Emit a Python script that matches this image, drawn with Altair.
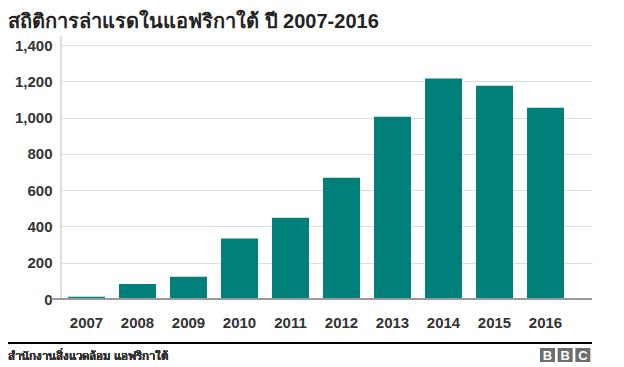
import altair as alt
import pandas as pd

years = ["2007", "2008", "2009", "2010", "2011", "2012", "2013", "2014", "2015", "2016"]
rhinos_poached = [13, 83, 122, 333, 448, 668, 1004, 1215, 1175, 1054]
y_ticks = [0, 200, 400, 600, 800, 1000, 1200, 1400]

title_text = "สถิติการล่าแรดในแอฟริกาใต้  ปี 2007-2016"
source_text = "สำนักงานสิ่งแวดล้อม  แอฟริกาใต้"
logo_letters = ["B", "B", "C"]

FONT = "Liberation Sans, Arial, Helvetica, sans-serif"
TEAL = "#007f7b"
W, H = 531, 254

df = pd.DataFrame({"year": years, "value": rhinos_poached})

bars = alt.Chart(df).mark_bar(color=TEAL).encode(
    x=alt.X("year:N", sort=years,
            scale=alt.Scale(paddingInner=0.275, paddingOuter=0.343, align=0.2),
            axis=alt.Axis(title=None, labelAngle=0, domain=False, ticks=False, grid=False,
                          labelFont=FONT, labelFontSize=15, labelFontWeight="bold",
                          labelColor="#333333", labelPadding=16)),
    y=alt.Y("value:Q",
            scale=alt.Scale(domain=[0, 1400], nice=False),
            axis=alt.Axis(title=None, values=y_ticks, format=",d", domain=False,
                          ticks=False, grid=True, labelFont=FONT, labelFontSize=15,
                          labelFontWeight="bold", labelColor="#333333",
                          labelPadding=9, gridColor="#dddddd")),
)

# y-axis vertical line and zero baseline
vline = alt.Chart(df).mark_rule(color="#dddddd", strokeWidth=1).encode(
    x=alt.value(0), y=alt.value(-9), y2=alt.value(H)
)
zero = alt.Chart(df).mark_rule(color="#999999", strokeWidth=1).encode(
    x=alt.value(-10), x2=alt.value(W), y=alt.value(H)
)

# footer
footer_line = alt.Chart(df).mark_rule(color="#000000", strokeWidth=1.5).encode(
    x=alt.value(-53), x2=alt.value(W), y=alt.value(298)
)
source = alt.Chart(df).mark_text(
    text=source_text, align="left", baseline="alphabetic", font=FONT,
    fontSize=11.5, fontWeight="normal", color="#333333"
).encode(x=alt.value(-53), y=alt.value(315))

logo_df = pd.DataFrame({"letter": logo_letters, "i": [0, 1, 2]})
logo_boxes = alt.Chart(logo_df).mark_rect(color="#6e6e6e").encode(
    x=alt.X("i:Q", scale=alt.Scale(domain=[0, 3], range=[W - 52, W + 1]), axis=None),
    x2=alt.X2("i2:Q"),
    y=alt.value(303), y2=alt.value(317),
).transform_calculate(i2="datum.i + 0.85")
logo_text = alt.Chart(logo_df).mark_text(
    font=FONT, fontSize=13, fontWeight="bold", color="white", baseline="middle"
).encode(
    x=alt.X("ic:Q", scale=alt.Scale(domain=[0, 3], range=[W - 52, W + 1]), axis=None),
    y=alt.value(310.5),
    text="letter:N",
).transform_calculate(ic="datum.i + 0.425")

logo = alt.layer(logo_boxes, logo_text)

chart = alt.layer(bars, vline, zero, footer_line, source, logo).resolve_scale(
    x="independent"
).properties(
    width=W, height=H,
    autosize=alt.AutoSizeParams(type="none"),
    padding={"left": 53, "top": 37, "right": 16, "bottom": 63},
    title=alt.TitleParams(title_text, anchor="start", frame="group", font=FONT,
                          fontSize=20, fontWeight="bold", color="#222222",
                          dx=-53, offset=4),
).configure_view(stroke=None)

chart.save("out.html", embed_options={"renderer": "svg", "actions": False})
